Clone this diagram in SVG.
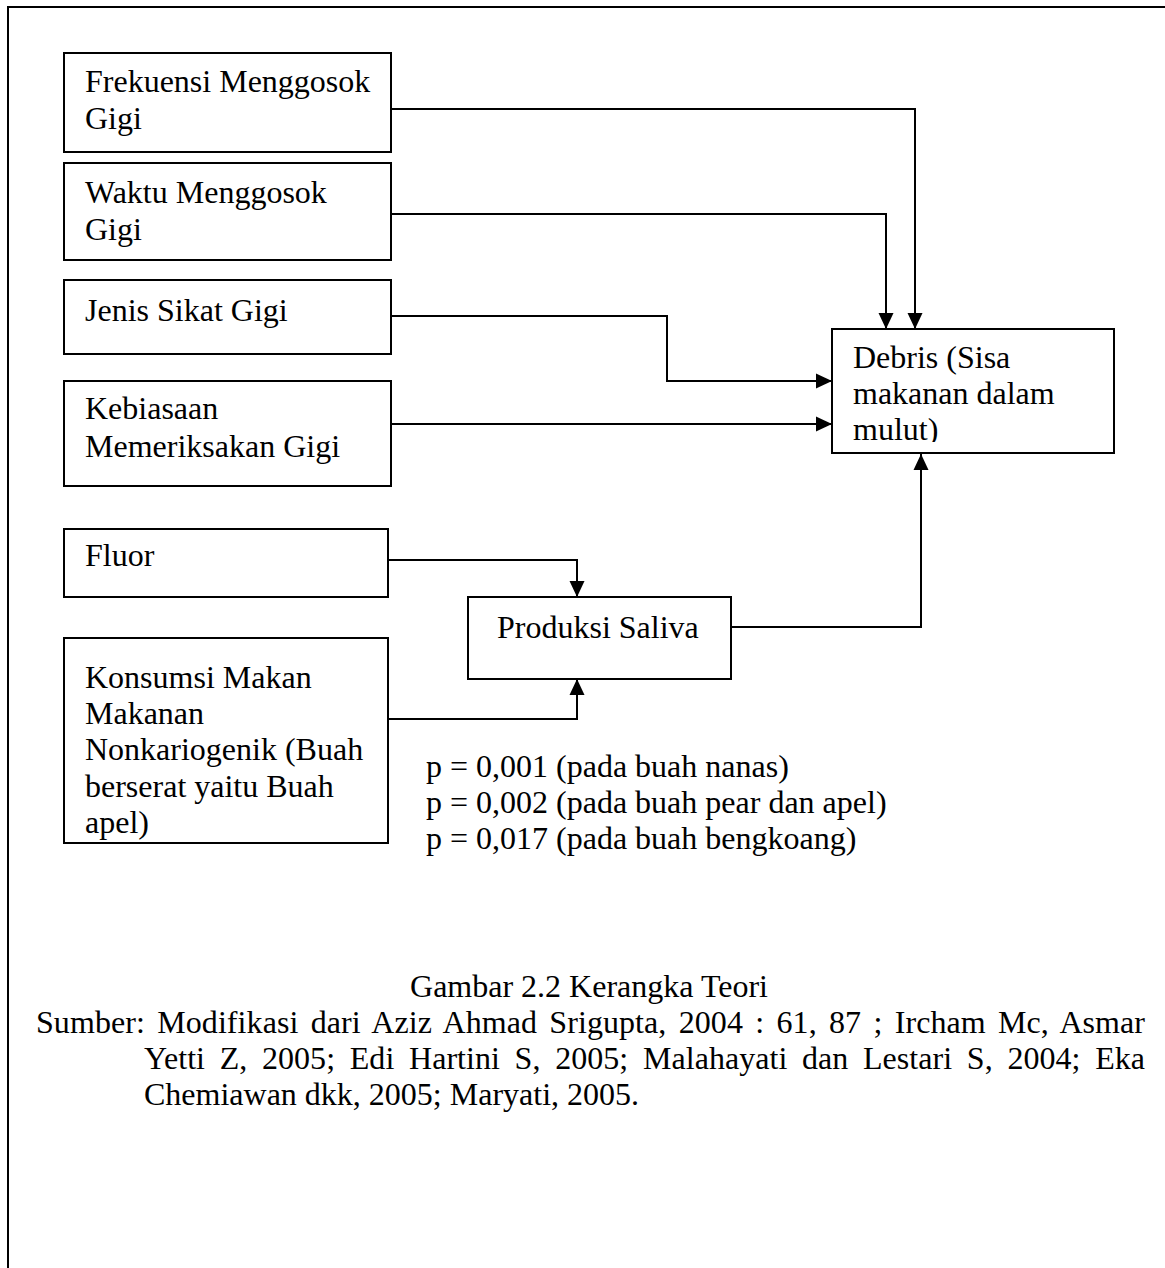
<svg xmlns="http://www.w3.org/2000/svg" width="1165" height="1268" viewBox="0 0 1165 1268">
<style>
.box{fill:#fff;stroke:#000;stroke-width:2}
.t{font-family:"Liberation Serif","Times New Roman",serif;font-size:32px;fill:#000}
.c{fill:none;stroke:#000;stroke-width:2}
</style>
<defs>
<marker id="ah" markerUnits="userSpaceOnUse" markerWidth="16" markerHeight="16" viewBox="0 0 16 16" refX="16" refY="8" orient="auto">
<path d="M0,0.5 L16,8 L0,15.5 Z" fill="#000"/>
</marker>
<clipPath id="debclip"><rect x="833" y="330" width="280" height="112"/></clipPath>
</defs>
<rect width="1165" height="1268" fill="#fff"/>
<path d="M8,1268 V7 H1165" fill="none" stroke="#000" stroke-width="2"/>

<g id="connectors">
<path class="c" d="M391,109 H915 V329" marker-end="url(#ah)"/>
<path class="c" d="M391,214 H886 V329" marker-end="url(#ah)"/>
<path class="c" d="M388,316 H667 V381 H832" marker-end="url(#ah)"/>
<path class="c" d="M388,424 H832" marker-end="url(#ah)"/>
<path class="c" d="M388,560 H577 V597" marker-end="url(#ah)"/>
<path class="c" d="M388,719 H577 V679" marker-end="url(#ah)"/>
<path class="c" d="M728,627 H921 V454" marker-end="url(#ah)"/>
</g>

<g id="frekuensi">
<rect class="box" x="64" y="53" width="327" height="99"/>
<text class="t" x="85" y="92">Frekuensi Menggosok</text>
<text class="t" x="85" y="129">Gigi</text>
</g>
<g id="waktu">
<rect class="box" x="64" y="163" width="327" height="97"/>
<text class="t" x="85" y="203">Waktu Menggosok</text>
<text class="t" x="85" y="240">Gigi</text>
</g>
<g id="jenis">
<rect class="box" x="64" y="280" width="327" height="74"/>
<text class="t" x="85" y="321">Jenis Sikat Gigi</text>
</g>
<g id="kebiasaan">
<rect class="box" x="64" y="381" width="327" height="105"/>
<text class="t" x="85" y="419">Kebiasaan</text>
<text class="t" x="85" y="457">Memeriksakan Gigi</text>
</g>
<g id="fluor">
<rect class="box" x="64" y="529" width="324" height="68"/>
<text class="t" x="85" y="566">Fluor</text>
</g>
<g id="konsumsi">
<rect class="box" x="64" y="638" width="324" height="205"/>
<text class="t" x="85" y="688">Konsumsi Makan</text>
<text class="t" x="85" y="724">Makanan</text>
<text class="t" x="85" y="760">Nonkariogenik (Buah</text>
<text class="t" x="85" y="797">berserat yaitu Buah</text>
<text class="t" x="85" y="833">apel)</text>
</g>
<g id="produksi">
<rect class="box" x="468" y="597" width="263" height="82"/>
<text class="t" x="497" y="638">Produksi Saliva</text>
</g>
<g id="debris">
<rect class="box" x="832" y="329" width="282" height="124"/>
<g clip-path="url(#debclip)">
<text class="t" x="853" y="368">Debris (Sisa</text>
<text class="t" x="853" y="404">makanan dalam</text>
<text class="t" x="853" y="440">mulut)</text>
</g>
</g>

<g id="pvalues">
<text class="t" x="426" y="777">p = 0,001 (pada buah nanas)</text>
<text class="t" x="426" y="813">p = 0,002 (pada buah pear dan apel)</text>
<text class="t" x="426" y="849">p = 0,017 (pada buah bengkoang)</text>
</g>

<g id="caption">
<text class="t" x="589" y="997" text-anchor="middle">Gambar 2.2 Kerangka Teori</text>
<text class="t" x="36" y="1033" word-spacing="4.2" textLength="1109" lengthAdjust="spacing">Sumber: Modifikasi dari Aziz Ahmad Srigupta, 2004 : 61, 87 ; Ircham Mc, Asmar</text>
<text class="t" x="144" y="1069" word-spacing="6.6" textLength="1001" lengthAdjust="spacing">Yetti Z, 2005; Edi Hartini S, 2005; Malahayati dan Lestari S, 2004; Eka</text>
<text class="t" x="144" y="1105">Chemiawan dkk, 2005; Maryati, 2005.</text>
</g>
</svg>
